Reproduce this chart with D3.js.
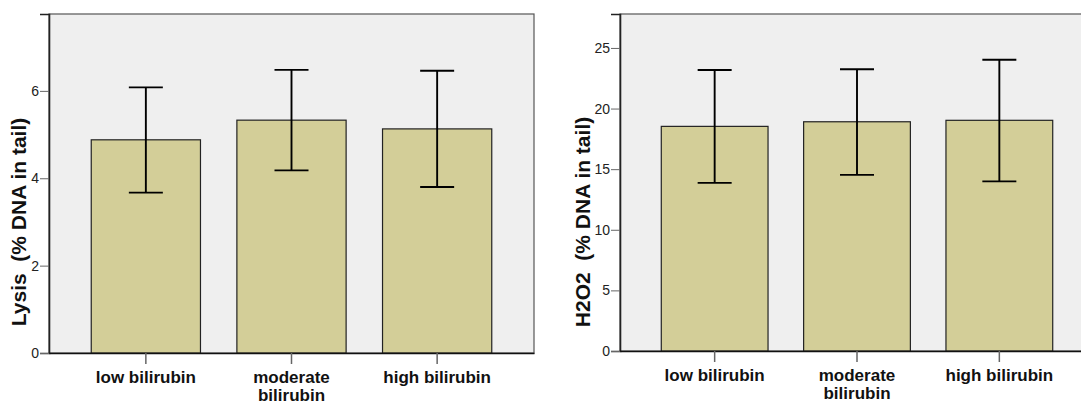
<!DOCTYPE html>
<html>
<head>
<meta charset="utf-8">
<script src="https://cdn.jsdelivr.net/npm/d3@7"></script>
<style>
    body { margin: 0; background: #fff; }
    svg { display: block; font-family: "Liberation Sans", Arial, sans-serif; }
    .tick-label { font-size: 14px; fill: #222; }
    .cat-label { font-size: 17px; font-weight: bold; fill: #111; }
    .y-title { font-size: 21px; font-weight: bold; fill: #111; white-space: pre; }
</style>
</head>
<body>
<div id="chart"></div>
<script>
// categories shared by both panels
const categories = ["low bilirubin", "moderate bilirubin", "high bilirubin"];

// Lysis (% DNA in tail): mean and error bar ends
const lysisMeans = [4.88, 5.33, 5.13];
const lysisUpper = [6.08, 6.48, 6.46];
const lysisLower = [3.67, 4.18, 3.80];
const lysisTicks = [0, 2, 4, 6];

// H2O2 (% DNA in tail)
const h2o2Means = [18.53, 18.91, 19.03];
const h2o2Upper = [23.18, 23.24, 24.03];
const h2o2Lower = [13.87, 14.53, 13.99];
const h2o2Ticks = [0, 5, 10, 15, 20, 25];

const svg = d3.select("#chart").append("svg")
    .attr("width", 1081)
    .attr("height", 404);

function drawPanel(opts) {
    let left = opts.left, right = opts.right, top = opts.top, bottom = opts.bottom;

    let x = d3.scaleBand()
        .domain(categories)
        .range([left, right])
        .paddingInner(0.25)
        .paddingOuter(0.29);

    let y = d3.scaleLinear()
        .domain([0, opts.yMax])
        .range([bottom, top]);

    let data = categories.map((c, i) => ({
        cat: c, mean: opts.means[i], hi: opts.upper[i], lo: opts.lower[i]
    }));

    let g = svg.append("g");

    // plot background + frame
    g.append("rect")
        .attr("x", left).attr("y", top)
        .attr("width", right - left).attr("height", bottom - top)
        .attr("fill", "#efefef")
        .attr("stroke", "#555")
        .attr("stroke-width", 1.2);

    // bars
    g.selectAll(".bar")
        .data(data)
        .enter().append("rect")
        .attr("class", "bar")
        .attr("x", d => x(d.cat))
        .attr("y", d => y(d.mean))
        .attr("width", x.bandwidth())
        .attr("height", d => y(0) - y(d.mean))
        .attr("fill", "#d3ce98")
        .attr("stroke", "#222")
        .attr("stroke-width", 1.2);

    // error bars
    let capHalf = 17;
    let err = g.selectAll(".err")
        .data(data)
        .enter().append("g")
        .attr("class", "err")
        .attr("stroke", "#000")
        .attr("stroke-width", 1.9);

    err.append("line")
        .attr("x1", d => x(d.cat) + x.bandwidth() / 2)
        .attr("x2", d => x(d.cat) + x.bandwidth() / 2)
        .attr("y1", d => y(d.hi))
        .attr("y2", d => y(d.lo));
    err.append("line")
        .attr("x1", d => x(d.cat) + x.bandwidth() / 2 - capHalf)
        .attr("x2", d => x(d.cat) + x.bandwidth() / 2 + capHalf)
        .attr("y1", d => y(d.hi))
        .attr("y2", d => y(d.hi));
    err.append("line")
        .attr("x1", d => x(d.cat) + x.bandwidth() / 2 - capHalf)
        .attr("x2", d => x(d.cat) + x.bandwidth() / 2 + capHalf)
        .attr("y1", d => y(d.lo))
        .attr("y2", d => y(d.lo));

    // y axis
    let yAxis = d3.axisLeft(y)
        .tickValues(opts.ticks)
        .tickSize(9)
        .tickPadding(1);
    let yg = g.append("g")
        .attr("transform", "translate(" + left + ",0)")
        .call(yAxis);
    yg.select(".domain").attr("stroke", "#222").attr("stroke-width", 1.6);
    yg.selectAll(".tick line").attr("stroke", "#666");
    yg.selectAll(".tick text").attr("class", "tick-label").attr("font-size", null).attr("font-family", null).attr("fill", null);

    // x axis
    let xAxis = d3.axisBottom(x)
        .tickSize(11)
        .tickSizeOuter(0)
        .tickPadding(7);
    let xg = g.append("g")
        .attr("transform", "translate(0," + bottom + ")")
        .call(xAxis);
    xg.select(".domain").attr("stroke", "#111").attr("stroke-width", 1.6);
    xg.selectAll(".tick line").attr("stroke", "#666").attr("stroke-width", 1.5);
    xg.selectAll(".tick text")
        .attr("class", "cat-label")
        .attr("font-size", null).attr("font-family", null).attr("fill", null)
        .call(wrap, x.step() * 0.85);

    // y title
    g.append("text")
        .attr("class", "y-title")
        .attr("transform", "translate(" + opts.titleX + "," + opts.titleY + ") rotate(-90)")
        .attr("text-anchor", "middle")
        .attr("dominant-baseline", "middle")
        .text(opts.title);
}

// break long category names over two lines
function wrap(sel, width) {
    sel.each(function () {
        let text = d3.select(this);
        let words = text.text().split(" ");
        let dy = text.attr("dy");
        let yy = text.attr("y");
        text.text(null);
        let line = [];
        let lineNo = 0;
        let tspan = text.append("tspan").attr("x", 0).attr("y", yy).attr("dy", dy);
        words.forEach(w => {
            line.push(w);
            tspan.text(line.join(" "));
            if (tspan.node().getComputedTextLength() > width && line.length > 1) {
                line.pop();
                tspan.text(line.join(" "));
                line = [w];
                lineNo++;
                tspan = text.append("tspan").attr("x", 0).attr("y", yy)
                    .attr("dy", (lineNo * 1.03) + 0.71 + "em").text(w);
            }
        });
    });
}

drawPanel({
    left: 49, right: 534, top: 14, bottom: 353,
    yMax: 7.76, ticks: lysisTicks,
    means: lysisMeans, upper: lysisUpper, lower: lysisLower,
    title: "Lysis  (% DNA in tail)", titleX: 20, titleY: 222
});

drawPanel({
    left: 620, right: 1094, top: 14, bottom: 351,
    yMax: 27.8, ticks: h2o2Ticks,
    means: h2o2Means, upper: h2o2Upper, lower: h2o2Lower,
    title: "H2O2  (% DNA in tail)", titleX: 584, titleY: 222
});
</script>
</body>
</html>
